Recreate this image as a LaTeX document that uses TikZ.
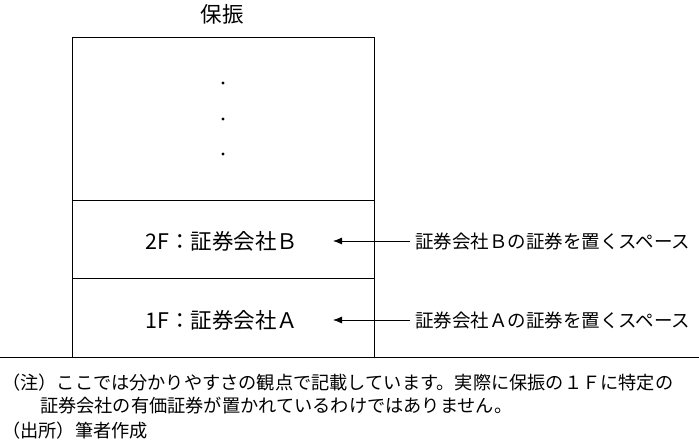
\documentclass[tikz,border=0pt]{standalone}
\usepackage{fontspec}
\usetikzlibrary{arrows.meta}
\setmainfont{Noto Sans CJK JP}
\begin{document}
\begin{tikzpicture}[x=1pt,y=-1pt,
  big/.style={font=\fontsize{21.5}{24}\selectfont,inner sep=0},
  lab/.style={font=\fontsize{18.5}{21}\selectfont,inner sep=0},
  note/.style={font=\fontsize{18.2}{20}\selectfont,inner sep=0,anchor=west},
  arr/.style={-{Latex[length=9pt,width=7pt]},line width=0.8pt}]
\useasboundingbox (0,0) rectangle (699,441);
\draw[line width=0.9pt] (72,37) rectangle (374,357);
\draw[line width=0.9pt] (72,200) -- (374,200);
\draw[line width=0.9pt] (72,278) -- (374,278);
\draw[line width=0.9pt] (0,357) -- (699,357);
\node[big] (t) at (222,14) {保振};
\foreach \y in {83,119,154} \fill (223,\y) circle (1.6);
\node[big] (b) at (222,241) {2F：証券会社Ｂ};
\node[big] (a) at (222,320) {1F：証券会社Ａ};
\node[lab,anchor=west] (lb) at (415,241) {証券会社Ｂの証券を置くスペース};
\node[lab,anchor=west] (la) at (415,320) {証券会社Ａの証券を置くスペース};
\coordinate (eb) at (333,241); \coordinate (ea) at (333,320);
\draw[arr] (lb.west) ++(-5,0) -- (eb);
\draw[arr] (la.west) ++(-5,0) -- (ea);
\node[note] (n1) at (2,383) {（注）ここでは分かりやすさの観点で記載しています。実際に保振の１Ｆに特定の};
\node[note] (n2) at (40,406) {証券会社の有価証券が置かれているわけではありません。};
\node[note] (n3) at (2,431) {（出所）筆者作成};
\end{tikzpicture}
\end{document}
